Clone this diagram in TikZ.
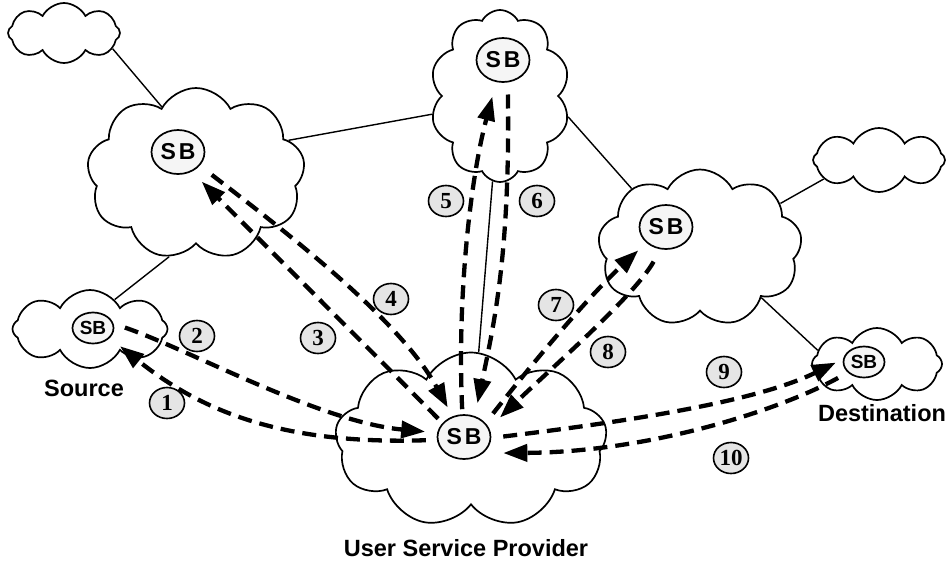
\documentclass[tikz,border=0pt]{standalone}
\usepackage{fontspec}
\setmainfont{Liberation Serif}
\setsansfont{Liberation Sans}
\usetikzlibrary{shapes.symbols,shapes.geometric,arrows.meta}

\begin{document}
\begin{tikzpicture}[x=1pt, y=-1pt,
    net/.style={cloud, draw, fill=white, line width=1.7pt, cloud puffs=#1, cloud puff arc=125, cloud ignores aspect, inner sep=0pt},
    sb/.style={ellipse, draw, fill=black!4, line width=1.7pt, inner sep=0pt, minimum width=53pt, minimum height=44pt, font=\sffamily\bfseries\fontsize{23}{23}\selectfont},
    sbs/.style={sb, minimum width=41pt, minimum height=31pt, font=\sffamily\bfseries\fontsize{19}{19}\selectfont},
    num/.style={ellipse, draw, fill=black!10, line width=1.6pt, inner sep=0pt, minimum width=35pt, minimum height=31pt, font=\bfseries\fontsize{23}{23}\selectfont},
    lbl/.style={font=\sffamily\bfseries\fontsize{23.5}{24}\selectfont},
    link/.style={line width=1.4pt},
    msg/.style={line width=4.3pt, dash pattern=on 14pt off 8pt, -{Triangle[length=24pt,width=17pt]}}]
    \useasboundingbox (0,0) rectangle (949,565);

    \node[net=8, minimum width=112pt, minimum height=60pt] (cA) at (64,33) {};
    \node[net=9, minimum width=218pt, minimum height=172pt] (cL) at (196,174) {};
    \node[net=10, minimum width=140pt, minimum height=172pt] (cT) at (500,96) {};
    \node[net=9, minimum width=204pt, minimum height=157pt] (cR) at (700,248) {};
    \node[net=8, minimum width=132pt, minimum height=64pt] (cF) at (879,160) {};
    \node[net=8, minimum width=155pt, minimum height=78pt] (cS) at (90,329) {};
    \node[net=8, minimum width=130pt, minimum height=72pt] (cD) at (877,364) {};
    \node[net=9, minimum width=272pt, minimum height=175pt] (cU) at (471,440) {};

    \draw[link] (cA.-18) -- (cL.117);
    \draw[link] (cL.20) -- (cT.195);
    \draw[link] (cL.252) -- (cS.50);
    \draw[link] (cT.-17) -- (cR.139);
    \draw[link] (cR.29) -- (cF.199);
    \draw[link] (cR.-39) -- (cD.167);
    \draw[link] (cT.-95) -- (cU.85);

    \node[sb] (lSB) at (178,152) {S\hspace{3pt}B};
    \node[sb] (tSB) at (503,60) {S\hspace{3pt}B};
    \node[sb] (rSB) at (666,227) {S\hspace{3pt}B};
    \node[sb] (spSB) at (464,437) {S\hspace{3pt}B};
    \node[sbs] (srcSB) at (93,328) {SB};
    \node[sbs] (dSB) at (864,362) {SB};

    \node[lbl] (src) at (84,388) {Source};
    \node[lbl] (usp) at (466,548) {User Service Provider};
    \node[lbl] (dst) at (882,413) {Destination};

    \draw[msg, shorten <=11pt, shorten >=13pt] (spSB.186) .. controls (280,445) and (200,410) .. (srcSB.-31);
    \draw[msg, shorten <=12pt, shorten >=12pt] (srcSB.12) .. controls (190,350) and (320,422) .. (spSB.171);
    \draw[msg, shorten <=6pt, shorten >=14pt] (spSB.147) .. controls (400,380) and (270,250) .. (lSB.-55);
    \draw[msg, shorten <=15pt, shorten >=10pt] (lSB.-32) .. controls (290,235) and (400,320) .. (spSB.119);
    \draw[msg, shorten <=5pt, shorten >=15pt] (spSB.94) .. controls (457,300) and (470,180) .. (tSB.-107);
    \draw[msg, shorten <=12pt, shorten >=13pt] (tSB.-78) .. controls (510,250) and (495,320) .. (spSB.63);
    \draw[msg, shorten <=12pt, shorten >=11pt] (spSB.33) .. controls (535,360) and (590,295) .. (rSB.219);
    \draw[msg, shorten <=14pt, shorten >=15pt] (rSB.-104) .. controls (635,295) and (555,365) .. (spSB.20);
    \draw[msg, shorten <=12pt, shorten >=8pt] (spSB.-2) .. controls (640,420) and (760,400) .. (dSB.172);
    \draw[msg, shorten <=11pt, shorten >=20pt] (dSB.213) .. controls (780,410) and (650,452) .. (spSB.-40);

    \node[num] (n1) at (167,403) {1};
    \node[num] (n2) at (197,336) {2};
    \node[num] (n3) at (318,338) {3};
    \node[num] (n4) at (391,299) {4};
    \node[num] (n5) at (446,201) {5};
    \node[num] (n6) at (537,201) {6};
    \node[num] (n7) at (556,305) {7};
    \node[num] (n8) at (608,352) {8};
    \node[num] (n9) at (724,372) {9};
    \node[num] (n10) at (731,458) {10};
\end{tikzpicture}
\end{document}
